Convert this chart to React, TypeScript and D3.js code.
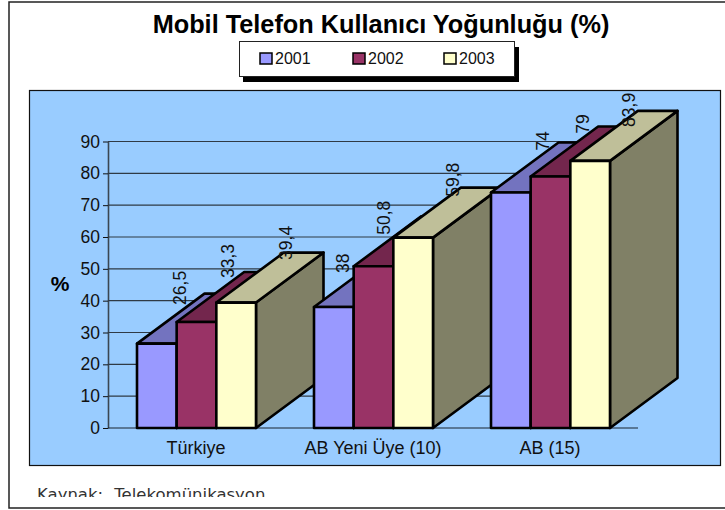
import { useEffect, useRef } from "react";
import * as d3 from "d3";

const categories = ["Türkiye", "AB Yeni Üye (10)", "AB (15)"];
const years = ["2001", "2002", "2003"];
const values2001 = [26.5, 38, 74];
const values2002 = [33.3, 50.8, 79];
const values2003 = [39.4, 59.8, 83.9];
const yTicks = [0, 10, 20, 30, 40, 50, 60, 70, 80, 90];
const colors = ["#9999FF", "#993366", "#FFFFCC"];

// hand placed data labels, excel put them in odd spots
const labelNudge = [
  [[-10.5, -13.7], [-2, -19], [16.5, -17.7]],
  [[-25, -9], [-23.5, -6.5], [6, -15.8]],
  [[-2, -16.7], [-1.5, -17.8], [5, -9]],
];

const FONT = "'Liberation Sans', Arial, sans-serif";
const DEPTH_X = 67.5;
const DEPTH_Y = 50;

const shade = (c: string, k: number) => {
  const r = d3.rgb(c);
  return d3.rgb(r.r * k, r.g * k, r.b * k).formatHex();
};

export default function App() {
  const plotRef = useRef<SVGGElement>(null);

  useEffect(() => {
    const g = d3.select(plotRef.current);
    g.selectAll("*").remove();

    const series = [values2001, values2002, values2003];
    const xScale = d3.scaleBand().domain(categories).range([108, 639]);
    const xBar = d3
      .scaleBand()
      .domain(years)
      .range([29, 177 - 29]);
    const yScale = d3.scaleLinear().domain([0, 90]).range([428, 141.5]);

    // axis + gridlines
    const yAxis = d3
      .axisLeft(yScale)
      .tickValues(yTicks)
      .tickSize(5)
      .tickSizeOuter(0)
      .tickPadding(3);
    const axisG = g.append("g").attr("transform", "translate(108,0)").call(yAxis);
    axisG.select(".domain").attr("stroke", "#3a4652").attr("stroke-width", 1.6);
    axisG.selectAll(".tick line").attr("stroke", "#111");
    axisG
      .selectAll(".tick text")
      .attr("font-family", FONT)
      .attr("font-size", 17.5)
      .attr("fill", "#111");

    g.append("g")
      .selectAll("line")
      .data(yTicks)
      .join("line")
      .attr("x1", 108)
      .attr("x2", 638)
      .attr("y1", (d) => yScale(d))
      .attr("y2", (d) => yScale(d))
      .attr("stroke", (d) => (d === 0 ? "#1a2530" : "#2f3a45"))
      .attr("stroke-width", 1.2);

    // bars, back to front inside each group
    categories.forEach((cat, ci) => {
      const barsG = g.append("g");
      years.forEach((yr, si) => {
        const v = series[si][ci];
        const x0 = xScale(cat)! + xBar(yr)!;
        const w = xBar.bandwidth();
        const x1 = x0 + w;
        const yT = yScale(v);
        const yB = yScale(0);
        const b = barsG.append("g").attr("stroke", "#000").attr("stroke-width", 2.6).attr("stroke-linejoin", "round");
        const path = (pts: [number, number][]) => d3.line()(pts) + "Z";
        b.append("path")
          .attr("d", path([[x1, yT], [x1 + DEPTH_X, yT - DEPTH_Y], [x1 + DEPTH_X, yB - DEPTH_Y], [x1, yB]]))
          .attr("fill", shade(colors[si], 0.5));
        b.append("path")
          .attr("d", path([[x0, yT], [x0 + DEPTH_X, yT - DEPTH_Y], [x1 + DEPTH_X, yT - DEPTH_Y], [x1, yT]]))
          .attr("fill", shade(colors[si], 0.75));
        b.append("rect")
          .attr("x", x0)
          .attr("y", yT)
          .attr("width", w)
          .attr("height", yB - yT)
          .attr("fill", colors[si]);
      });
    });

    // data labels go on top of everything
    categories.forEach((cat, ci) => {
      years.forEach((yr, si) => {
        const v = series[si][ci];
        const [nx, ny] = labelNudge[ci][si];
        const cx = xScale(cat)! + xBar(yr)! + xBar.bandwidth() / 2 + DEPTH_X / 2 + nx;
        const cy = yScale(v) - DEPTH_Y / 2 + ny;
        g.append("text")
          .attr("transform", `translate(${cx + 6},${cy}) rotate(-90)`)
          .attr("font-family", FONT)
          .attr("font-size", 17.5)
          .attr("fill", "#111")
          .text(String(v).replace(".", ","));
      });
    });

    // category labels
    g.append("g")
      .selectAll("text")
      .data(categories)
      .join("text")
      .attr("x", (d) => xScale(d)! + xScale.bandwidth() / 2 - 0.5)
      .attr("y", 454)
      .attr("text-anchor", "middle")
      .attr("font-family", FONT)
      .attr("font-size", 18)
      .attr("fill", "#111")
      .text((d) => d);
  }, []);

  const legendX = d3.scaleOrdinal<string, number>().domain(years).range([260, 353, 444]);

  return (
    <svg width={725} height={510} style={{ position: "absolute", left: 0, top: 0, background: "#fff" }}>
      <defs>
        <clipPath id="srcClip">
          <rect x={20} y={470} width={400} height={27} />
        </clipPath>
      </defs>
      <path d="M725,2 H9 V508 H725" fill="none" stroke="#222" strokeWidth={1.5} />
      <text x={381} y={33} textAnchor="middle" fontFamily={FONT} fontWeight="bold" fontSize={25.3} fill="#000">
        Mobil Telefon Kullanıcı Yoğunluğu (%)
      </text>

      <rect x={243} y={47} width={276} height={35} fill="#000" />
      <rect x={239.5} y={41.5} width={275} height={35} fill="#fff" stroke="#222" />
      {years.map((y, i) => (
        <g key={y}>
          <rect x={legendX(y)} y={53} width={12} height={11} fill={colors[i]} stroke="#000" strokeWidth={1.5} />
          <text x={legendX(y) + 15} y={64} fontFamily={FONT} fontSize={16} fill="#111">
            {y}
          </text>
        </g>
      ))}

      <rect x={29.5} y={90.5} width={691} height={375} fill="#99CCFF" stroke="#111" strokeWidth={1.2} />
      <text x={60} y={291} textAnchor="middle" fontFamily={FONT} fontWeight="bold" fontSize={21} fill="#000">
        %
      </text>
      <g ref={plotRef} />
      <text x={37} y={500} clipPath="url(#srcClip)" fontFamily="'DejaVu Sans', Verdana, sans-serif" fontSize={16.5} wordSpacing={6} fill="#333">
        Kaynak: Telekomünikasyon
      </text>
    </svg>
  );
}
